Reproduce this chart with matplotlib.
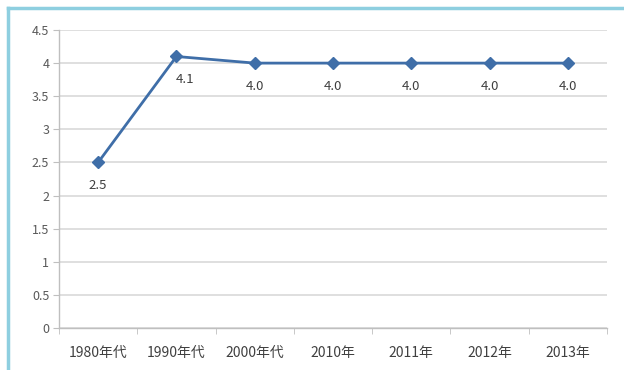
import matplotlib
matplotlib.use("Agg")
import matplotlib.pyplot as plt
from matplotlib.lines import Line2D
import numpy as np

plt.rcParams['font.family'] = ['Noto Sans CJK SC', 'DejaVu Sans']

categories = ["1980年代", "1990年代", "2000年代", "2010年", "2011年", "2012年", "2013年"]
values = [2.5, 4.1, 4.0, 4.0, 4.0, 4.0, 4.0]
value_labels = ["2.5", "4.1", "4.0", "4.0", "4.0", "4.0", "4.0"]
y_ticks = [0, 0.5, 1, 1.5, 2, 2.5, 3, 3.5, 4, 4.5]
y_tick_labels = ["0", "0.5", "1", "1.5", "2", "2.5", "3", "3.5", "4", "4.5"]

fig = plt.figure(figsize=(6.24, 3.70), dpi=100)
ax = fig.add_axes([59/624, 1 - 328/370, (607 - 59)/624, (328 - 30)/370])

x = np.arange(len(categories))
line_color = "#3f6ea8"
ax.plot(x, values, color=line_color, lw=2.0, marker="D", ms=6.5,
        markerfacecolor=line_color, markeredgecolor=line_color, zorder=3)

for i, (v, lab) in enumerate(zip(values, value_labels)):
    dx = 6 if i == 1 else 0
    ax.annotate(lab, (i, v), xytext=(dx, -12), textcoords="offset points",
                ha="center", va="top", fontsize=9.5, color="#404040")

ax.set_xlim(-0.5, len(categories) - 0.5)
ax.set_ylim(0, 4.5)
ax.set_yticks(y_ticks)
ax.set_yticklabels(y_tick_labels)
ax.set_xticks(x)
ax.set_xticklabels(categories)
ax.set_xticks(np.arange(-0.5, len(categories), 1), minor=True)

ax.yaxis.grid(True, color="#d9d9d9", lw=1.2)
ax.set_axisbelow(True)
for s in ["top", "right"]:
    ax.spines[s].set_visible(False)
for s in ["left", "bottom"]:
    ax.spines[s].set_color("#bfbfbf")
    ax.spines[s].set_linewidth(1.0)

ax.tick_params(axis="y", length=4, color="#bfbfbf", labelsize=9, labelcolor="#595959", pad=3)
ax.tick_params(axis="x", which="major", length=0, labelsize=10, labelcolor="#404040", pad=13)
ax.tick_params(axis="x", which="minor", length=4, color="#bfbfbf")

# light blue frame along the top and left edges
frame_color = "#8ecfe0"
fig.add_artist(Line2D([8/624, 1], [1 - 8/370, 1 - 8/370], transform=fig.transFigure,
                      color=frame_color, lw=2.5))
fig.add_artist(Line2D([8/624, 8/624], [0, 1 - 8/370], transform=fig.transFigure,
                      color=frame_color, lw=2.5))

fig.savefig("out.png", dpi=100, facecolor="white")
